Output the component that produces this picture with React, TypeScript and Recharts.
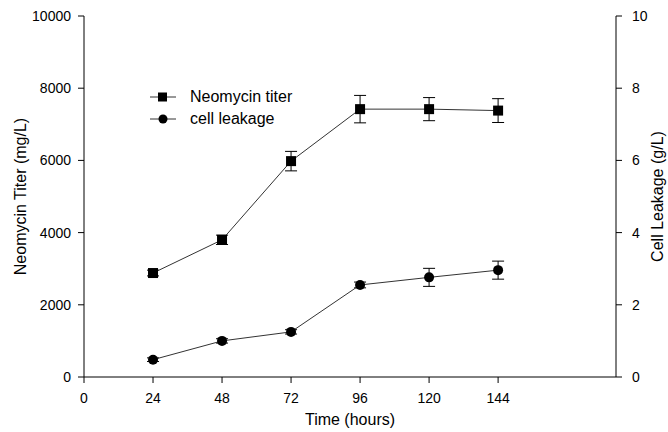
import React from "react";
import { ComposedChart, Line, XAxis, YAxis, ErrorBar, Legend } from "recharts";

const hours = [24, 48, 72, 96, 120, 144];
const neomycinTiter = [2880, 3800, 5980, 7420, 7420, 7380];
const neomycinErr = [80, 130, 270, 380, 320, 330];
const cellLeakage = [0.48, 1.0, 1.25, 2.55, 2.76, 2.96];
const cellLeakageErr = [0.05, 0.06, 0.06, 0.08, 0.25, 0.25];
const xTicks = [0, 24, 48, 72, 96, 120, 144];
const leftTicks = [0, 2000, 4000, 6000, 8000, 10000];
const rightTicks = [0, 2, 4, 6, 8, 10];

const data = hours.map((h, i) => ({
  hour: h,
  titer: neomycinTiter[i],
  titerErr: neomycinErr[i],
  leak: cellLeakage[i],
  leakErr: cellLeakageErr[i],
}));

const FONT = "'Liberation Sans', Arial, sans-serif";

const SquareDot = (props: any) => {
  const { cx, cy } = props;
  if (cx == null || cy == null) return null;
  return <rect x={cx - 5} y={cy - 5} width={10} height={10} fill="#000" />;
};
const CircleDot = (props: any) => {
  const { cx, cy } = props;
  if (cx == null || cy == null) return null;
  return <circle cx={cx} cy={cy} r={5} fill="#000" />;
};

const LegendContent = () => (
  <div style={{ fontFamily: FONT, fontSize: 16, color: "#000", lineHeight: "22px" }}>
    {[
      { label: "Neomycin titer", shape: "square" },
      { label: "cell leakage", shape: "circle" },
    ].map((it) => (
      <div key={it.label} style={{ display: "flex", alignItems: "center", height: 22 }}>
        <svg width={40} height={22}>
          <line x1={0} y1={11} x2={26} y2={11} stroke="#333" strokeWidth={1} />
          {it.shape === "square" ? (
            <rect x={8} y={6.5} width={9} height={9} fill="#000" />
          ) : (
            <circle cx={13} cy={11} r={4.5} fill="#000" />
          )}
        </svg>
        <span>{it.label}</span>
      </div>
    ))}
  </div>
);

export default function App() {
  return (
    <div style={{ position: "absolute", left: 0, top: 0, background: "#fff" }}>
      <ComposedChart
        width={668}
        height={432}
        data={data}
        margin={{ top: 16, right: 2, bottom: 5, left: 14 }}
      >
        <XAxis
          dataKey="hour"
          type="number"
          domain={[0, 185]}
          ticks={xTicks}
          tickSize={6}
          tickMargin={10}
          stroke="#000"
          tick={{ fill: "#000", fontSize: 14, fontFamily: FONT }}
          height={50}
          label={{
            value: "Time (hours)",
            position: "insideBottom",
            offset: 2,
            style: { fill: "#000", fontSize: 16, fontFamily: FONT },
          }}
        />
        <YAxis
          yAxisId="left"
          domain={[0, 10000]}
          ticks={leftTicks}
          width={70}
          tickSize={6}
          tickMargin={7}
          stroke="#000"
          tick={{ fill: "#000", fontSize: 14, fontFamily: FONT }}
          label={{
            value: "Neomycin Titer (mg/L)",
            angle: -90,
            position: "insideLeft",
            offset: 6,
            style: { textAnchor: "middle", fill: "#000", fontSize: 16, fontFamily: FONT },
          }}
        />
        <YAxis
          yAxisId="right"
          orientation="right"
          domain={[0, 10]}
          ticks={rightTicks}
          width={50}
          tickSize={6}
          tickMargin={10}
          stroke="#000"
          tick={{ fill: "#000", fontSize: 14, fontFamily: FONT }}
          label={{
            value: "Cell Leakage (g/L)",
            angle: -90,
            position: "insideRight",
            offset: 9,
            style: { textAnchor: "middle", fill: "#000", fontSize: 16, fontFamily: FONT },
          }}
        />
        <Line
          yAxisId="left"
          dataKey="titer"
          stroke="#333"
          strokeWidth={1}
          dot={<SquareDot />}
          isAnimationActive={false}
        >
          <ErrorBar dataKey="titerErr" width={6} stroke="#000" strokeWidth={1} direction="y" />
        </Line>
        <Line
          yAxisId="right"
          dataKey="leak"
          stroke="#333"
          strokeWidth={1}
          dot={<CircleDot />}
          isAnimationActive={false}
        >
          <ErrorBar dataKey="leakErr" width={6} stroke="#000" strokeWidth={1} direction="y" />
        </Line>
        <Legend
          content={<LegendContent />}
          layout="vertical"
          verticalAlign="middle"
          align="center"
          wrapperStyle={{ left: 150, top: 86, width: 200 }}
        />
      </ComposedChart>
    </div>
  );
}
